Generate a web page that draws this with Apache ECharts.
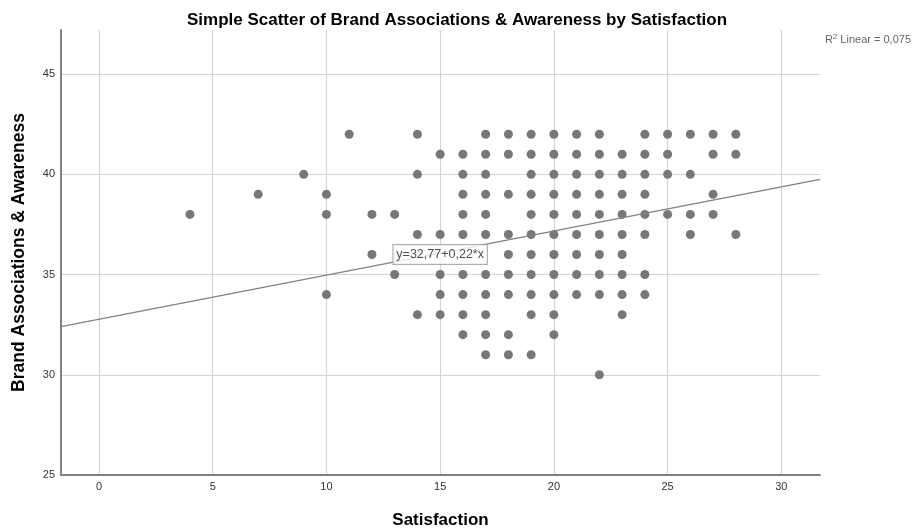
<!DOCTYPE html>
<html>
<head>
<meta charset="utf-8">
<script src="https://cdn.jsdelivr.net/npm/echarts@6/dist/echarts.min.js"></script>
<style>
  html, body { margin: 0; padding: 0; background: #fff; }
  #chart { width: 914px; height: 530px; }
</style>
</head>
<body>
<div id="chart"></div>
<script>
// satisfaction score per column, and the awareness scores seen at it
const satisfaction = [4, 7, 9, 10, 11, 12, 13, 14, 15, 16, 17, 18, 19, 20, 21, 22, 23, 24, 25, 26, 27, 28]
const awareness = [
  [38],
  [39],
  [40],
  [39, 38, 34],
  [42],
  [38, 36],
  [38, 35],
  [42, 40, 37, 33],
  [41, 37, 35, 34, 33],
  [41, 40, 39, 38, 37, 35, 34, 33, 32],
  [42, 41, 40, 39, 38, 37, 35, 34, 33, 32, 31],
  [42, 41, 39, 37, 36, 35, 34, 32, 31],
  [42, 41, 40, 39, 38, 37, 36, 35, 34, 33, 31],
  [42, 41, 40, 39, 38, 37, 36, 35, 34, 33, 32],
  [42, 41, 40, 39, 38, 37, 36, 35, 34],
  [42, 41, 40, 39, 38, 37, 36, 35, 34, 30],
  [41, 40, 39, 38, 37, 36, 35, 34, 33],
  [42, 41, 40, 39, 38, 37, 35, 34],
  [42, 41, 40, 38],
  [42, 40, 38, 37],
  [42, 41, 39, 38],
  [42, 41, 37]
]
const xTicks = [0, 5, 10, 15, 20, 25, 30]
const yTicks = [25, 30, 35, 40, 45]

const intercept = 32.77
const slope = 0.22
const fitLabel = 'y=32,77+0,22*x'
const r2Text = '0,075'

const xMin = -1.67
const xMax = 31.7
const yMin = 25
const yMax = 47.2

const points = []
satisfaction.forEach((s, i) => {
  awareness[i].forEach((a) => points.push([s, a]))
})
const fitLine = [xMin, xMax].map((x) => [x, intercept + slope * x])

const font = '"Liberation Sans", Arial, sans-serif'
const gridColor = '#d4d4d4'

const chart = echarts.init(document.getElementById('chart'), null, { renderer: 'canvas' })
chart.setOption({
  backgroundColor: '#fff',
  animation: false,
  textStyle: { fontFamily: font },
  title: {
    text: 'Simple Scatter of Brand Associations & Awareness by Satisfaction',
    left: 452,
    top: 7,
    textAlign: 'center',
    textStyle: { fontSize: 17, fontWeight: 'bold', color: '#000', fontFamily: font }
  },
  graphic: [{
    type: 'text',
    right: 3,
    top: 33,
    style: {
      text: 'R{sup|2} Linear = ' + r2Text,
      fill: '#666',
      font: '11px ' + font,
      rich: {
        sup: { fontSize: 8, verticalAlign: 'top', padding: [0, 0, 6, 0], fill: '#666' }
      }
    }
  }],
  grid: { left: 61, right: 94, top: 30, bottom: 55, outerBoundsMode: 'none' },
  xAxis: {
    type: 'value',
    min: xMin,
    max: xMax,
    name: 'Satisfaction',
    nameLocation: 'middle',
    nameGap: 37,
    nameTextStyle: { fontSize: 17, fontWeight: 'bold', color: '#000', fontFamily: font },
    axisLine: { onZero: false, lineStyle: { color: '#808080', width: 2 } },
    axisTick: { show: false, customValues: xTicks },
    axisLabel: { customValues: xTicks, color: '#333', fontSize: 11, margin: 6 },
    splitLine: { show: true, lineStyle: { color: gridColor, width: 1.2 } }
  },
  yAxis: {
    type: 'value',
    min: yMin,
    max: yMax,
    name: 'Brand Associations & Awareness',
    nameLocation: 'middle',
    nameGap: 33,
    nameTextStyle: { fontSize: 17.5, fontWeight: 'bold', color: '#000', fontFamily: font },
    axisLine: { show: true, onZero: false, lineStyle: { color: '#808080', width: 2 } },
    axisTick: { show: false, customValues: yTicks },
    axisLabel: { customValues: yTicks, color: '#333', fontSize: 11, margin: 6 },
    splitLine: { show: true, lineStyle: { color: gridColor, width: 1.2 } }
  },
  series: [
    {
      type: 'scatter',
      data: points,
      symbolSize: 9,
      itemStyle: { color: '#777777', opacity: 1 },
      z: 3
    },
    {
      type: 'line',
      data: fitLine,
      showSymbol: false,
      symbol: 'none',
      lineStyle: { color: '#828282', width: 1.3 },
      z: 4
    },
    {
      type: 'scatter',
      data: [[15, 36]],
      symbolSize: 0,
      z: 5,
      label: {
        show: true,
        position: 'inside',
        formatter: fitLabel,
        color: '#222',
        fontSize: 12.5,
        backgroundColor: '#fff',
        borderColor: '#9a9a9a',
        borderWidth: 1,
        padding: [3, 3, 3, 3]
      }
    }
  ]
})
</script>
</body>
</html>
